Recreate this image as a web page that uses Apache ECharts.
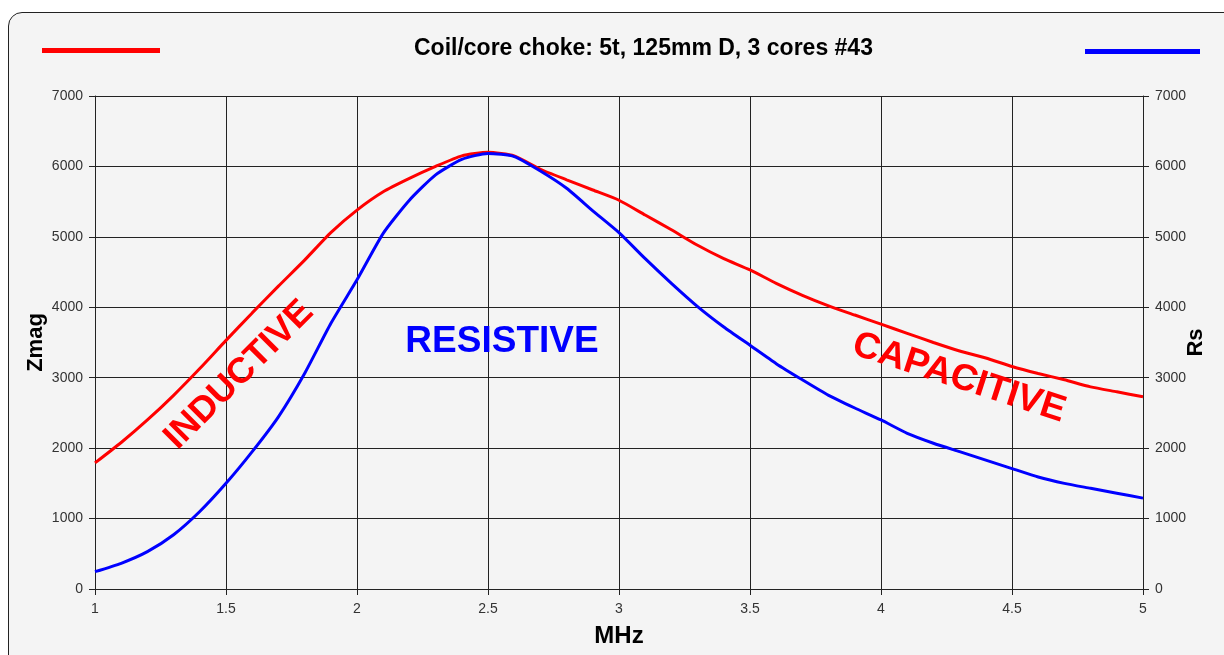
<!DOCTYPE html>
<html>
<head>
<meta charset="utf-8">
<script src="https://cdn.jsdelivr.net/npm/echarts@6/dist/echarts.min.js"></script>
<style>
  html, body { margin: 0; padding: 0; background: #fff; overflow: hidden; }
  #frame {
    position: absolute; left: 8px; top: 12px; width: 1240px; height: 660px;
    background: #f4f4f4; border: 1px solid #222; border-radius: 14px;
  }
  #chart { position: absolute; left: 0; top: 0; width: 1224px; height: 655px; }
</style>
</head>
<body>
<div id="frame"></div>
<div id="chart"></div>
<script>
// frequency points (MHz)
const freq = [1.0, 1.1, 1.2, 1.3, 1.4, 1.5, 1.6, 1.7, 1.8, 1.9,
  2.0, 2.1, 2.2, 2.3, 2.4, 2.5, 2.6, 2.7, 2.8, 2.9,
  3.0, 3.1, 3.2, 3.3, 3.4, 3.5, 3.6, 3.7, 3.8, 3.9,
  4.0, 4.1, 4.2, 4.3, 4.4, 4.5, 4.6, 4.7, 4.8, 4.9, 5.0]
// |Z| magnitude, left axis
const zmag = [1790, 2080, 2400, 2750, 3130, 3530, 3920, 4300, 4670, 5060,
  5380, 5640, 5830, 6000, 6150, 6200, 6150, 5960, 5810, 5665,
  5520, 5310, 5100, 4880, 4690, 4530, 4340, 4170, 4020, 3890,
  3760, 3630, 3500, 3380, 3280, 3160, 3060, 2970, 2870, 2800, 2730]
// series resistance, right axis
const rs = [246, 365, 530, 770, 1100, 1500, 1950, 2445, 3060, 3770,
  4390, 5050, 5520, 5880, 6100, 6185, 6140, 5935, 5690, 5370,
  5060, 4690, 4340, 4010, 3720, 3460, 3200, 2970, 2750, 2570,
  2400, 2210, 2070, 1950, 1830, 1710, 1590, 1500, 1430, 1360, 1290]
const xTicks = [1, 1.5, 2, 2.5, 3, 3.5, 4, 4.5, 5]

const font = '"Liberation Sans", Arial, sans-serif'
let chart = echarts.init(document.getElementById('chart'))

function pairs(ys) {
  return freq.map((f, i) => [f, ys[i]])
}

const yAxisBase = {
  type: 'value', min: 0, max: 7000, interval: 1000,
  nameLocation: 'middle', nameMoveOverlap: false,
  nameTextStyle: { fontFamily: font, fontWeight: 'bold', fontSize: 22, color: '#000' },
  axisLine: { show: true, lineStyle: { color: '#222', width: 1 } },
  axisTick: { show: true, length: 6, lineStyle: { color: '#222' } },
  axisLabel: { fontFamily: font, fontSize: 14, color: '#333', margin: 12, formatter: v => String(v) }
}

chart.setOption({
  animation: false,
  title: {
    text: 'Coil/core choke: 5t, 125mm D, 3 cores #43',
    left: 414, top: 37, padding: 0,
    textStyle: { fontFamily: font, fontWeight: 'bold', fontSize: 23, color: '#000' }
  },
  legend: [
    { data: ['Zmag'], left: 37, top: 43, icon: 'rect', itemWidth: 118, itemHeight: 5,
      formatter: () => '', selectedMode: false },
    { data: ['Rs'], left: 1080, top: 44, icon: 'rect', itemWidth: 115, itemHeight: 5,
      formatter: () => '', selectedMode: false }
  ],
  grid: { left: 95, right: 81, top: 96, bottom: 66, outerBoundsMode: 'none' },
  xAxis: {
    type: 'value', min: 1, max: 5, interval: 0.5,
    name: 'MHz', nameLocation: 'middle', nameGap: 35,
    nameTextStyle: { fontFamily: font, fontWeight: 'bold', fontSize: 24, color: '#000' },
    axisLine: { lineStyle: { color: '#222', width: 1 } },
    axisTick: { length: 6, lineStyle: { color: '#222' } },
    axisLabel: {
      fontFamily: font, fontSize: 14, color: '#333', margin: 13,
      formatter: v => xTicks.includes(v) ? String(v) : ''
    },
    splitLine: { show: true, lineStyle: { color: '#222', width: 1 } }
  },
  yAxis: [
    Object.assign({}, yAxisBase, {
      position: 'left', name: 'Zmag', nameGap: 48, nameRotate: 90,
      splitLine: { show: true, lineStyle: { color: '#222', width: 1 } }
    }),
    Object.assign({}, yAxisBase, {
      position: 'right', name: 'Rs', nameGap: 42, nameRotate: 90,
      splitLine: { show: false }
    })
  ],
  series: [
    { name: 'Zmag', type: 'line', yAxisIndex: 0, data: pairs(zmag), smooth: 0.2,
      showSymbol: false, lineStyle: { color: '#ff0000', width: 3 }, itemStyle: { color: '#ff0000' } },
    { name: 'Rs', type: 'line', yAxisIndex: 1, data: pairs(rs), smooth: 0.2,
      showSymbol: false, lineStyle: { color: '#0000ff', width: 3 }, itemStyle: { color: '#0000ff' } }
  ],
  graphic: [
    { type: 'text', x: 239, y: 375, rotation: Math.PI / 4, z: 100,
      style: { text: 'INDUCTIVE', fill: '#ff0000', font: 'bold 36px ' + font, align: 'center', verticalAlign: 'middle' } },
    { type: 'text', x: 502, y: 342, z: 100,
      style: { text: 'RESISTIVE', fill: '#0000ff', font: 'bold 37px ' + font, align: 'center', verticalAlign: 'middle' } },
    { type: 'text', x: 959, y: 378, rotation: -18 * Math.PI / 180, z: 100,
      style: { text: 'CAPACITIVE', fill: '#ff0000', font: 'bold 37px ' + font, align: 'center', verticalAlign: 'middle' } }
  ]
})
</script>
</body>
</html>
